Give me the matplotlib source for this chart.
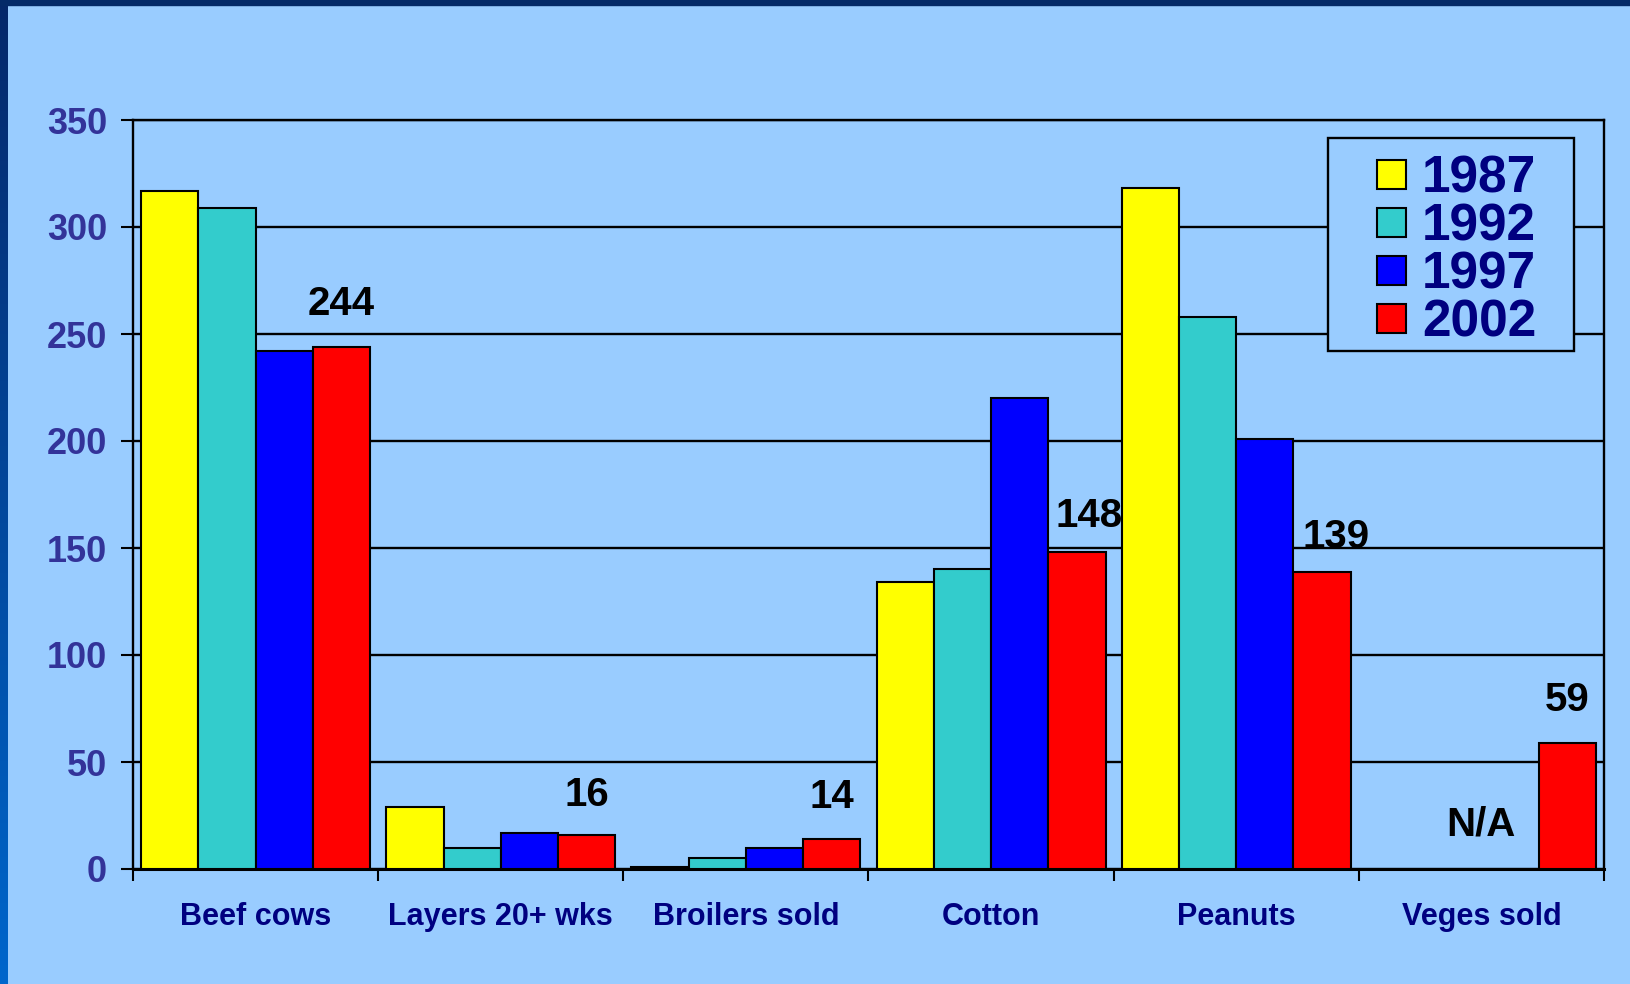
# Farm commodities by census year, bar chart on light blue slide background
import numpy as np
import matplotlib.pyplot as plt
from matplotlib.patches import Rectangle
from matplotlib.colors import LinearSegmentedColormap

plt.rcParams['font.family'] = ['Liberation Sans', 'DejaVu Sans']
plt.rcParams['font.weight'] = 'bold'

# Daten
categories = ['Beef cows', 'Layers 20+ wks', 'Broilers sold', 'Cotton', 'Peanuts', 'Veges sold']
years = ['1987', '1992', '1997', '2002']
v1987 = [317, 29, 1, 134, 318, np.nan]
v1992 = [309, 10, 5, 140, 258, np.nan]
v1997 = [242, 17, 10, 220, 201, np.nan]
v2002 = [244, 16, 14, 148, 139, 59]
labels_2002 = ['244', '16', '14', '148', '139', '59']
yticks = [0, 50, 100, 150, 200, 250, 300, 350]

colors = ['#FFFF00', '#33CCCC', '#0000FF', '#FF0000']
bg = '#99CCFF'
W, H = 1631, 984

fig = plt.figure(figsize=(W / 100, H / 100), dpi=100)
fig.patch.set_facecolor(bg)


def fx(px):
    return px / W


def fy(py):
    return 1 - py / H


# Rahmen links (Verlauf) und oben
strip = fig.add_axes([0, 0, fx(8), 1])
grad = np.linspace(0, 1, 256).reshape(-1, 1)
cm = LinearSegmentedColormap.from_list('edge', ['#06286A', '#0066CC'])
strip.imshow(grad, aspect='auto', cmap=cm, origin='upper')
strip.axis('off')
fig.patches.append(Rectangle((0, fy(5)), 1, 5 / H, transform=fig.transFigure,
                             color='#042A68', zorder=5))

ax = fig.add_axes([fx(133), fy(869), fx(1604 - 133), (869 - 120) / H])
ax.set_facecolor(bg)

x = np.arange(len(categories))
w = 0.2335
series = [v1987, v1992, v1997, v2002]
for i, vals in enumerate(series):
    ax.bar(x + (i - 1.5) * w, vals, w, color=colors[i], edgecolor='black',
           linewidth=1.5, zorder=3)

# Werte ueber 2002-Balken
dx = [0, 0, 0, 9, 10, 0]
dy = [23, 21, 22, 18, 17, 23]
for k in range(len(categories)):
    ax.annotate(labels_2002[k], (x[k] + 1.5 * w, v2002[k]), xytext=(dx[k], dy[k]),
                textcoords='offset points', ha='center', va='baseline',
                fontsize=29, fontweight='bold', color='black', zorder=4)
ax.text(x[5], 21, 'N/A', ha='center', va='center', fontsize=29,
        fontweight='bold', color='black', zorder=4)

ax.set_xlim(-0.5, 5.5)
ax.set_ylim(0, 350)
ax.set_yticks(yticks)
ax.yaxis.grid(True, color='black', linewidth=1.7, zorder=0)
ax.set_axisbelow(True)
ax.tick_params(axis='y', length=8.6, width=1.5, pad=10, labelsize=26,
               labelcolor='#333399', color='black')
for t in ax.get_yticklabels():
    t.set_fontweight('bold')

ax.set_xticks(x)
ax.set_xticklabels(categories, fontsize=22, fontweight='bold', color='#000080')
ax.set_xticks(np.arange(-0.5, 6.0, 1.0), minor=True)
ax.tick_params(axis='x', which='major', length=0, pad=23.5)
ax.tick_params(axis='x', which='minor', length=8.6, width=1.5, color='black')

for s in ax.spines.values():
    s.set_color('black')
    s.set_linewidth(1.7)
ax.spines['bottom'].set_linewidth(2.2)

# Legende (Kasten oben rechts)
fig.patches.append(Rectangle((fx(1328), fy(351)), fx(1574 - 1328), (351 - 138) / H,
                             transform=fig.transFigure, facecolor=bg,
                             edgecolor='black', linewidth=1.7, zorder=10))
row_y = [174, 222, 270, 318]
for i, yr in enumerate(years):
    fig.patches.append(Rectangle((fx(1377), fy(row_y[i] + 14.5)), fx(29), 29 / H,
                                 transform=fig.transFigure, facecolor=colors[i],
                                 edgecolor='black', linewidth=1.5, zorder=11))
    fig.text(fx(1422), fy(row_y[i] + 18.5), yr, ha='left', va='baseline',
             fontsize=37, fontweight='bold', color='#000080', zorder=12)

fig.savefig('out.png', dpi=100, facecolor=fig.get_facecolor())
